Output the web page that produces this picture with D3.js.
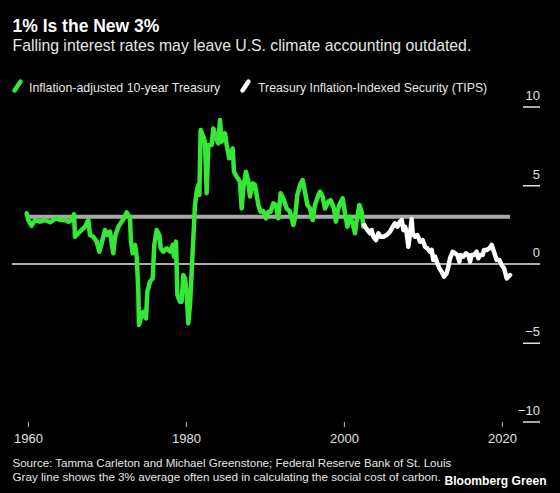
<!DOCTYPE html>
<html>
<head>
<meta charset="utf-8">
<script src="https://cdn.jsdelivr.net/npm/d3@7"></script>
<style>
  html, body { margin: 0; padding: 0; background: #000; }
  svg { display: block; }
  text { font-family: "Liberation Sans", Arial, Helvetica, sans-serif; }
</style>
</head>
<body>
<svg id="chart" width="560" height="493"></svg>
<script>
// ---------- DATA ----------
const title = "1% Is the New 3%";
const subtitle = "Falling interest rates may leave U.S. climate accounting outdated.";
const legendLabels = ["Inflation-adjusted 10-year Treasury", "Treasury Inflation-Indexed Security (TIPS)"];
const sourceLines = [
  "Source: Tamma Carleton and Michael Greenstone; Federal Reserve Bank of St. Louis",
  "Gray line shows the 3% average often used in calculating the social cost of carbon."
];
const brand = "Bloomberg Green";

const xTickValues = [1960, 1980, 2000, 2020];
const yTickValues = [10, 5, 0, -5, -10];
const averageRate = 3;

// Inflation-adjusted 10-year Treasury (decimal year, percent)
const treasuryYears = [
  1959.84, 1960.05, 1960.48, 1960.90, 1961.53, 1962.16, 1962.80, 1963.22, 1963.64, 1964.06,
  1964.70, 1965.12, 1965.54, 1965.84, 1965.96, 1966.38, 1966.81, 1967.23, 1967.65, 1967.86,
  1968.28, 1968.70, 1969.04, 1969.34, 1969.76, 1970.05, 1970.39, 1970.81, 1971.03, 1971.45,
  1971.87, 1972.16, 1972.50, 1972.92, 1973.05, 1973.26, 1973.56, 1973.77, 1973.98, 1974.06,
  1974.27, 1974.61, 1974.95, 1975.12, 1975.46, 1975.79, 1976.00, 1976.30, 1976.64, 1976.81,
  1977.14, 1977.57, 1977.99, 1978.33, 1978.49, 1978.75, 1978.92, 1979.25, 1979.46, 1979.67,
  1979.88, 1980.09, 1980.30, 1980.52, 1980.73, 1980.94, 1981.15, 1981.36, 1981.57, 1981.70,
  1981.87, 1982.12, 1982.41, 1982.63, 1982.84, 1983.26, 1983.47, 1983.81, 1984.10, 1984.31,
  1984.52, 1984.95, 1985.16, 1985.49, 1985.92, 1986.09, 1986.42, 1986.84, 1987.06, 1987.27,
  1987.60, 1987.90, 1988.11, 1988.45, 1988.74, 1989.17, 1989.46, 1989.80, 1990.14, 1990.43,
  1990.73, 1991.06, 1991.40, 1991.70, 1991.99, 1992.33, 1992.75, 1993.17, 1993.60, 1993.81,
  1994.10, 1994.52, 1994.78, 1995.07, 1995.37, 1995.71, 1996.04, 1996.34, 1996.63, 1996.97,
  1997.31, 1997.60, 1998.03, 1998.32, 1998.74, 1999.00, 1999.29, 1999.51, 1999.85, 2000.14,
  2000.44, 2000.78, 2001.11, 2001.41, 2001.62, 2001.96, 2002.25, 2002.46, 2002.55
];
const treasuryValues = [
  3.22, 2.79, 2.43, 2.79, 2.69, 2.79, 2.65, 2.79, 2.90, 2.79,
  2.79, 2.69, 2.79, 3.15, 1.73, 1.95, 2.16, 2.37, 2.79, 1.84,
  1.73, 1.42, 0.78, 1.31, 2.16, 1.84, 2.05, 0.68, 1.73, 2.37,
  2.69, 2.90, 3.28, 2.90, 1.42, 0.68, 1.21, 0.47, -1.76, -3.87,
  -3.45, -3.03, -3.45, -1.76, -1.12, -0.91, 1.21, 2.16, 1.84, 0.99,
  0.78, 0.99, 0.78, 1.21, 0.47, 1.42, -1.97, -2.39, -2.39, -0.70,
  -0.91, -1.76, -3.77, -2.60, -0.49, 1.63, 3.75, 4.59, 5.02, 4.38,
  8.51, 8.19, 7.77, 4.49, 7.56, 7.56, 8.61, 7.98, 7.66, 9.14,
  7.77, 8.30, 7.56, 6.71, 7.34, 5.86, 5.55, 5.23, 3.53, 4.80,
  5.86, 5.23, 4.28, 5.12, 5.02, 3.75, 3.32, 3.37, 2.90, 3.32,
  3.32, 3.85, 3.75, 2.90, 4.49, 4.17, 3.53, 3.32, 2.48, 2.90,
  4.38, 5.12, 5.33, 4.59, 3.75, 3.53, 2.79, 3.75, 4.17, 4.59,
  4.28, 3.53, 3.96, 4.06, 3.53, 2.69, 3.53, 3.85, 4.17, 3.22,
  2.37, 3.00, 2.58, 1.95, 2.79, 3.75, 3.32, 2.37, 2.48
];

// Treasury Inflation-Indexed Security (TIPS)
const tipsYears = [
  2002.55, 2002.67, 2002.97, 2003.31, 2003.52, 2003.73, 2004.07, 2004.36, 2004.66, 2004.99,
  2005.42, 2005.84, 2006.18, 2006.47, 2006.77, 2007.10, 2007.32, 2007.53, 2007.74, 2007.95,
  2008.16, 2008.37, 2008.58, 2008.71, 2009.00, 2009.30, 2009.64, 2009.97, 2010.27, 2010.56,
  2010.90, 2011.11, 2011.32, 2011.54, 2011.75, 2012.08, 2012.38, 2012.67, 2013.01, 2013.22,
  2013.43, 2013.77, 2014.07, 2014.36, 2014.62, 2014.78, 2015.12, 2015.46, 2015.75, 2015.97,
  2016.18, 2016.47, 2016.81, 2017.02, 2017.23, 2017.57, 2017.74, 2018.08, 2018.41, 2018.71,
  2018.92, 2019.13, 2019.34, 2019.68, 2019.97, 2020.27, 2020.40, 2020.61, 2020.82, 2021.03
];
const tipsValues = [
  2.48, 2.37, 2.16, 1.95, 2.16, 1.73, 1.52, 1.95, 1.73, 1.73,
  1.84, 2.05, 2.37, 2.58, 2.37, 2.69, 2.79, 2.16, 2.37, 1.95,
  1.10, 1.95, 2.84, 1.95, 1.73, 1.84, 1.42, 1.52, 1.10, 0.99,
  0.78, 0.89, 0.25, 0.47, 0.15, -0.27, -0.49, -0.80, -0.59, -0.17,
  0.36, 0.78, 0.68, 0.57, 0.15, 0.57, 0.47, 0.68, 0.57, 0.15,
  0.57, 0.57, 0.78, 0.36, 0.57, 0.57, 0.89, 0.89, 0.99, 1.21,
  0.89, 0.57, 0.25, 0.25, -0.06, -0.27, -0.49, -0.91, -0.80, -0.70
];

// ---------- STYLE ----------
const GREEN = "#36e836";
const WHITE = "#ffffff";
const GRAY = "#a9a9a9";
const TEXT = "#ffffff";
const SUBTEXT = "#e6e6e6";

const svg = d3.select("#chart");
svg.append("rect").attr("width", 560).attr("height", 493).attr("fill", "#000");

const x = d3.scaleLinear().domain([1960, 2020]).range([27.9, 501.9]);
const y = d3.scaleLinear().domain([-10, 10]).range([421.5, 106.5]);

function fitWidth(sel, target) {
  const node = sel.node();
  let fs = parseFloat(sel.attr("font-size"));
  const len = node.getComputedTextLength();
  sel.attr("font-size", (fs * target / len).toFixed(2));
}

// Title
svg.append("text").attr("x", 12.5).attr("y", 31.5)
  .attr("font-size", 17.5).attr("font-weight", "bold").attr("fill", TEXT)
  .text(title);
const sub = svg.append("text").attr("x", 12.5).attr("y", 50.5)
  .attr("font-size", 16).attr("fill", SUBTEXT).text(subtitle);
fitWidth(sub, 459);

// Legend
const leg1 = svg.append("text").attr("x", 29).attr("y", 92)
  .attr("font-size", 13).attr("fill", SUBTEXT).text(legendLabels[0]);
fitWidth(leg1, 191.5);
svg.append("line").attr("x1", 14.5).attr("y1", 90.5).attr("x2", 20.5).attr("y2", 81.5)
  .attr("stroke", GREEN).attr("stroke-width", 4.5).attr("stroke-linecap", "round");
const leg2 = svg.append("text").attr("x", 258).attr("y", 92)
  .attr("font-size", 13).attr("fill", SUBTEXT).text(legendLabels[1]);
fitWidth(leg2, 229.5);
svg.append("line").attr("x1", 242.5).attr("y1", 90.5).attr("x2", 248.5).attr("y2", 81.5)
  .attr("stroke", WHITE).attr("stroke-width", 4.5).attr("stroke-linecap", "round");

// Y axis (right)
const yAxis = d3.axisRight(y).tickValues(yTickValues.filter(d => d !== 0))
  .tickSize(17).tickFormat(d3.format("d"));
const gy = svg.append("g").attr("transform", "translate(523,0)").call(yAxis);
gy.select(".domain").remove();
gy.selectAll(".tick line").attr("stroke", "#e0e0e0").attr("stroke-width", 1.5);
gy.selectAll(".tick text").attr("x", 17).attr("dy", -7).attr("text-anchor", "end")
  .attr("font-size", 13).attr("fill", "#e0e0e0")
  .attr("font-family", "'Liberation Sans', Arial, sans-serif");
// zero label
svg.append("text").attr("x", 540).attr("y", y(0) - 7).attr("text-anchor", "end")
  .attr("font-size", 13).attr("fill", "#e0e0e0").text("0");

// X axis
const xAxis = d3.axisBottom(x).tickValues(xTickValues).tickSize(5).tickFormat(d3.format("d"));
const gx = svg.append("g").attr("transform", "translate(0,422)").call(xAxis);
gx.select(".domain").remove();
gx.selectAll(".tick line").attr("stroke", "#bbb").attr("stroke-width", 1);
gx.selectAll(".tick text").attr("y", 21).attr("dy", 0).attr("font-size", 13)
  .attr("fill", "#e0e0e0").attr("font-family", "'Liberation Sans', Arial, sans-serif");

// Zero line
svg.append("line").attr("x1", 12).attr("x2", 540).attr("y1", y(0)).attr("y2", y(0))
  .attr("stroke", "#e6e6e6").attr("stroke-width", 1.5);

// Average (3%) gray line
svg.append("line")
  .attr("x1", x(treasuryYears[0])).attr("x2", x(tipsYears[tipsYears.length - 1]))
  .attr("y1", y(averageRate)).attr("y2", y(averageRate))
  .attr("stroke", GRAY).attr("stroke-width", 4);

const line = d3.line().x(d => x(d[0])).y(d => y(d[1]));

svg.append("path").datum(treasuryYears.map((t, i) => [t, treasuryValues[i]]))
  .attr("d", line).attr("fill", "none").attr("stroke", GREEN)
  .attr("stroke-width", 4.5).attr("stroke-linejoin", "round").attr("stroke-linecap", "round");

svg.append("path").datum(tipsYears.map((t, i) => [t, tipsValues[i]]))
  .attr("d", line).attr("fill", "none").attr("stroke", WHITE)
  .attr("stroke-width", 4.5).attr("stroke-linejoin", "round").attr("stroke-linecap", "round");

// Footer
const s1 = svg.append("text").attr("x", 12.5).attr("y", 467).attr("font-size", 12)
  .attr("fill", SUBTEXT).text(sourceLines[0]);
fitWidth(s1, 439);
const s2 = svg.append("text").attr("x", 12.5).attr("y", 480.5).attr("font-size", 12)
  .attr("fill", SUBTEXT).text(sourceLines[1]);
fitWidth(s2, 428.5);
const b = svg.append("text").attr("x", 444.5).attr("y", 484.5).attr("font-size", 14)
  .attr("font-weight", "bold").attr("fill", TEXT)
  .style("font-family", "'Liberation Sans Narrow', 'Arial Narrow', 'Liberation Sans', sans-serif")
  .text(brand);
fitWidth(b, 102);
</script>
</body>
</html>
